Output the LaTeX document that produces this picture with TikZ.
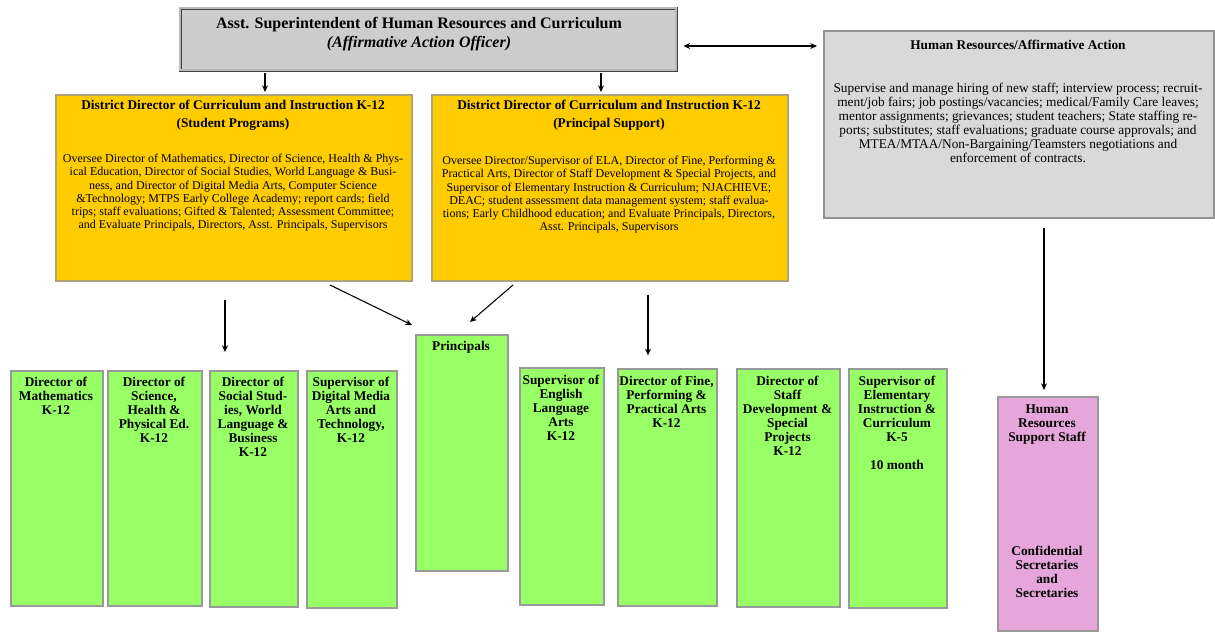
\documentclass[tikz,border=0pt]{standalone}
\usepackage{fontspec}
\setmainfont{Liberation Serif}
\usetikzlibrary{arrows.meta}
\definecolor{gold}{RGB}{255,204,0}
\definecolor{goldline}{RGB}{176,164,120}
\definecolor{lgreen}{RGB}{153,255,102}
\definecolor{pinkbox}{RGB}{230,166,218}
\definecolor{boxgray}{RGB}{153,153,153}
\definecolor{topfill}{RGB}{205,205,205}
\definecolor{hrfill}{RGB}{217,217,217}
\tikzset{
  topbox/.style={draw=black!75, line width=0.6pt, double=gray!55, double distance=1.5pt, fill=topfill, anchor=north west, inner sep=0pt},
  yellowbox/.style={draw=goldline, line width=1.5pt, fill=gold, anchor=north west, inner sep=0pt},
  hrbox/.style={draw=gray!85, line width=1.8pt, fill=hrfill, anchor=north west, inner sep=0pt},
  greenbox/.style={draw=boxgray, line width=1.8pt, fill=lgreen, anchor=north west, inner sep=0pt},
  pinkbx/.style={draw=boxgray, line width=1.8pt, fill=pinkbox, anchor=north west, inner sep=0pt},
  gtext/.style={anchor=north, align=center, inner sep=0pt, font=\bfseries\fontsize{10}{10.5}\selectfont},
  yhead/.style={anchor=north, align=center, inner sep=0pt, font=\bfseries\fontsize{10}{13.5}\selectfont},
  ybody/.style={anchor=north, align=center, inner sep=0pt, font=\fontsize{9}{9.9}\selectfont},
  hrbody/.style={anchor=north, align=center, inner sep=0pt, font=\fontsize{10}{10.5}\selectfont},
  arr/.style={-{Stealth[length=5pt,width=4.5pt]}, line width=0.8pt, black},
  arrboth/.style={{Stealth[length=5pt,width=4.5pt]}-{Stealth[length=5pt,width=4.5pt]}, line width=0.8pt, black}
}
\begin{document}
\begin{tikzpicture}[x=0.75pt,y=-0.75pt]
\useasboundingbox (0,0) rectangle (1215,637);

% top box
\node[topbox, minimum width=372pt, minimum height=46.5pt] (top) at (180,8) {};
\node[anchor=north, align=center, inner sep=0pt, font=\bfseries\fontsize{12}{14.3}\selectfont] (topt) at (419,17)
  {Asst. Superintendent of Human Resources and Curriculum\\\itshape (Affirmative Action Officer)};

% yellow boxes
\node[yellowbox, minimum width=267pt, minimum height=139.5pt] (y1) at (55,94) {};
\node[yhead] (y1h) at (233,100) {District Director of Curriculum and Instruction K-12\\(Student Programs)};
\node[ybody] (y1b) at (233,154) {Oversee Director of Mathematics, Director of Science, Health \& Phys-\\
ical Education, Director of Social Studies, World Language \& Busi-\\
ness, and Director of Digital Media Arts, Computer Science\\
\&Technology; MTPS Early College Academy; report cards; field\\
trips; staff evaluations; Gifted \& Talented; Assessment Committee;\\
and Evaluate Principals, Directors, Asst. Principals, Supervisors};

\node[yellowbox, minimum width=267pt, minimum height=139.5pt] (y2) at (431,94) {};
\node[yhead] (y2h) at (609,100) {District Director of Curriculum and Instruction K-12\\(Principal Support)};
\node[ybody] (y2b) at (609,156) {Oversee Director/Supervisor of ELA, Director of Fine, Performing \&\\
Practical Arts, Director of Staff Development \& Special Projects, and\\
Supervisor of Elementary Instruction \& Curriculum; NJACHIEVE;\\
DEAC; student assessment data management system; staff evalua-\\
tions; Early Childhood education; and Evaluate Principals, Directors,\\
Asst. Principals, Supervisors};

% HR box
\node[hrbox, minimum width=292.5pt, minimum height=140.25pt] (hr) at (823,30) {};
\node[anchor=north, inner sep=0pt, font=\bfseries\fontsize{10}{11}\selectfont] (hrh) at (1018,40) {Human Resources/Affirmative Action};
\node[hrbody] (hrb) at (1018,83) {Supervise and manage hiring of new staff; interview process; recruit-\\
ment/job fairs; job postings/vacancies; medical/Family Care leaves;\\
mentor assignments; grievances; student teachers; State staffing re-\\
ports; substitutes; staff evaluations; graduate course approvals; and\\
MTEA/MTAA/Non-Bargaining/Teamsters negotiations and\\
enforcement of contracts.};

% green boxes
\node[greenbox, minimum width=69pt, minimum height=176.25pt] (g1) at (10,370) {};
\node[gtext] (g1t) at (56,377) {Director of\\Mathematics\\K-12};
\node[greenbox, minimum width=70.5pt, minimum height=176.25pt] (g2) at (107,370) {};
\node[gtext] (g2t) at (154,377) {Director of\\Science,\\Health \&\\Physical Ed.\\K-12};
\node[greenbox, minimum width=66pt, minimum height=177pt] (g3) at (209,370) {};
\node[gtext] (g3t) at (253,377) {Director of\\Social Stud-\\ies, World\\Language \&\\Business\\K-12};
\node[greenbox, minimum width=67.5pt, minimum height=177.75pt] (g4) at (306,370) {};
\node[gtext] (g4t) at (351,377) {Supervisor of\\Digital Media\\Arts and\\Technology,\\K-12};
\node[greenbox, minimum width=69pt, minimum height=177pt] (pr) at (415,334) {};
\node[gtext] (prt) at (461,341) {Principals};
\node[greenbox, minimum width=63pt, minimum height=177.75pt] (g6) at (519,367) {};
\node[gtext] (g6t) at (561,375) {Supervisor of\\English\\Language\\Arts\\K-12};
\node[greenbox, minimum width=74.25pt, minimum height=177.75pt] (g7) at (617,368) {};
\node[gtext] (g7t) at (666.5,376) {Director of Fine,\\Performing \&\\Practical Arts\\K-12};
\node[greenbox, minimum width=77.25pt, minimum height=178.5pt] (g8) at (736,368) {};
\node[gtext] (g8t) at (787.5,376) {Director of\\Staff\\Development \&\\Special\\Projects\\K-12};
\node[greenbox, minimum width=73.5pt, minimum height=179.25pt] (g9) at (848,368) {};
\node[gtext] (g9t) at (897,376) {Supervisor of\\Elementary\\Instruction \&\\Curriculum\\K-5\\[10.5pt]10 month};

% pink box
\node[pinkbx, minimum width=75pt, minimum height=175.5pt] (pk) at (997,396) {};
\node[gtext] (pkt) at (1047,404) {Human\\Resources\\Support Staff};
\node[gtext] (pkb) at (1047,546) {Confidential\\Secretaries\\and\\Secretaries};

% connectors
\coordinate (a1) at (265,0);
\coordinate (a2) at (601,0);
\coordinate (a3) at (0,46);
\coordinate (a4) at (1044,0);
\draw[arr, shorten <=1.5pt, shorten >=1.5pt] (top.south -| a1) -- (y1.north -| a1);
\draw[arr, shorten <=1.5pt, shorten >=1.5pt] (top.south -| a2) -- (y2.north -| a2);
\draw[arrboth, shorten <=5pt, shorten >=4.5pt] (top.east |- a3) -- (hr.west |- a3);
\draw[arr, shorten <=6.5pt, shorten >=4.5pt] (hr.south -| a4) -- (pk.north -| a4);

\coordinate (f1s) at (225,300);
\coordinate (f1e) at (225,352);
\draw[arr] (f1s) -- (f1e);

\coordinate (d1s) at (330,285);
\coordinate (d1e) at (412,325);
\draw[arr] (d1s) -- (d1e);
\coordinate (d2s) at (513,285);
\coordinate (d2e) at (470,322);
\draw[arr] (d2s) -- (d2e);

\coordinate (e1) at (648,0);
\draw[arr, shorten <=9.5pt, shorten >=9.5pt] (y2.south -| e1) -- (g7.north -| e1);
\end{tikzpicture}
\end{document}
